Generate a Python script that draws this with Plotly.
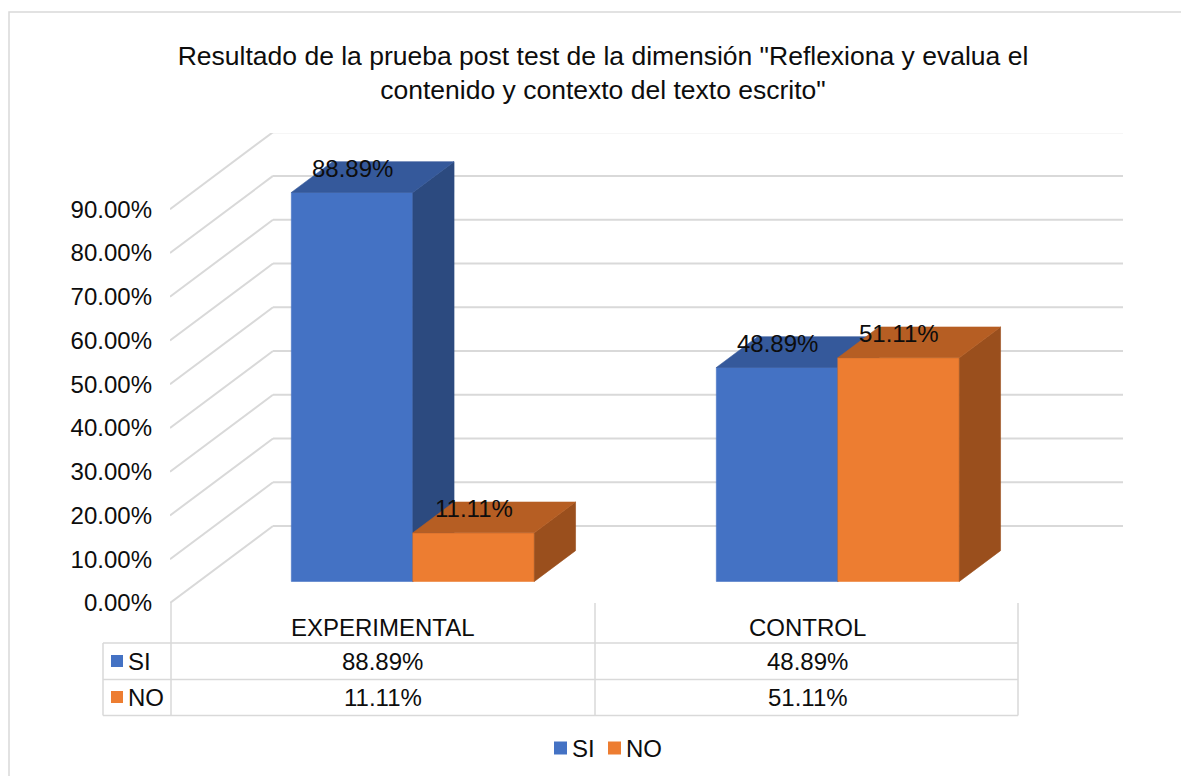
import plotly.graph_objects as go

# ---------------- data ----------------
categories = ["EXPERIMENTAL", "CONTROL"]
series_names = ["SI", "NO"]
si_values = [88.89, 48.89]
no_values = [11.11, 51.11]
tick_values = [0, 10, 20, 30, 40, 50, 60, 70, 80, 90]

# ---------------- style / geometry ----------------
OFF = 8                          # page body margin
W, H = 1189 - OFF, 776 - OFF
PLOT_L, PLOT_R, PLOT_T, PLOT_B = 170, 1124, 133, 603   # page pixel coords
ML, MR, MT, MB = PLOT_L - OFF, W - (PLOT_R - OFF), PLOT_T - OFF, H - (PLOT_B - OFF)
PW, PH = W - ML - MR, H - MT - MB
PX_PER_CAT = 425.0
PX_PER_PCT = 4.376
X0 = 0.5
XMAX = X0 + PW / PX_PER_CAT
YMAX = PH / PX_PER_PCT

WALL_DX = 103 / PX_PER_CAT      # depth offset in x-units
WALL_DY = 77 / PX_PER_PCT       # depth offset in y-units
D0, D1 = 0.28, 0.68             # bar depth (fraction of floor depth)
BAR_W = 121.5 / PX_PER_CAT
BAR_OFF = 1.5 / PX_PER_CAT

FONT = "Liberation Sans, Arial, sans-serif"
FS = 24
FS_TITLE = 26.5
TXT = "#0d0d0d"
GRID = "#d9d9d9"

colors = {
    "SI": {"front": "#4472C4", "top": "#35599B", "side": "#2C4A7F"},
    "NO": {"front": "#ED7D31", "top": "#B65E23", "side": "#9A4F1D"},
}

def pxx(px):
    return (px - PLOT_L) / PW

def pxy(py):
    return (PLOT_B - py) / PH

fig = go.Figure()

# ---------------- walls (grid lines) ----------------
shapes = []
for v in tick_values:
    shapes.append(dict(type="line", xref="x", yref="y", layer="below",
                       x0=X0, y0=v, x1=X0 + WALL_DX, y1=v + WALL_DY,
                       line=dict(color=GRID, width=2)))
    shapes.append(dict(type="line", xref="x", yref="y", layer="below",
                       x0=X0 + WALL_DX, y0=v + WALL_DY,
                       x1=X0 + len(categories) + WALL_DX, y1=v + WALL_DY,
                       line=dict(color=GRID, width=2)))

# ---------------- 3D bars ----------------
annotations = []
series = [("SI", si_values), ("NO", no_values)]
for ci, cat in enumerate(categories):
    center = ci + 1
    for si, (name, vals) in enumerate(series):
        v = vals[ci]
        xl = center - BAR_W + BAR_OFF + si * BAR_W
        xr = xl + BAR_W
        sx0, sy0 = D0 * WALL_DX, D0 * WALL_DY
        sx1, sy1 = D1 * WALL_DX, D1 * WALL_DY
        col = colors[name]
        fx = [xl + sx0, xr + sx0, xr + sx0, xl + sx0, xl + sx0]
        fy = [sy0, sy0, v + sy0, v + sy0, sy0]
        sxp = [xr + sx0, xr + sx1, xr + sx1, xr + sx0, xr + sx0]
        syp = [sy0, sy1, v + sy1, v + sy0, sy0]
        tx = [xl + sx0, xr + sx0, xr + sx1, xl + sx1, xl + sx0]
        ty = [v + sy0, v + sy0, v + sy1, v + sy1, v + sy0]
        for px_, py_, c in [(fx, fy, col["front"]), (sxp, syp, col["side"]), (tx, ty, col["top"])]:
            fig.add_trace(go.Scatter(x=px_, y=py_, mode="lines", fill="toself",
                                     fillcolor=c, line=dict(color=c, width=0.6),
                                     hoverinfo="skip", showlegend=False, name=name))
        annotations.append(dict(x=(xl + xr) / 2 + sx0, y=v + sy0, xref="x", yref="y",
                                text=f"{v:.2f}%", showarrow=False, yanchor="middle",
                                yshift=24, font=dict(family=FONT, size=FS, color=TXT)))

# ---------------- data table ----------------
T_LEFT, T_COL1 = 103, 171
T_TOP, R1, R2, R3 = 603, 643, 679.5, 715.6
col_edges = [T_COL1, T_COL1 + PX_PER_CAT - 1, T_COL1 + 2 * PX_PER_CAT - 3]
tl = dict(color=GRID, width=1.5)
for yy in [R1, R2, R3]:
    shapes.append(dict(type="line", xref="paper", yref="paper",
                       x0=pxx(T_LEFT), x1=pxx(col_edges[-1]), y0=pxy(yy), y1=pxy(yy), line=tl))
shapes.append(dict(type="line", xref="paper", yref="paper",
                   x0=pxx(T_LEFT), x1=pxx(T_LEFT), y0=pxy(R1), y1=pxy(R3), line=tl))
for xx in col_edges:
    shapes.append(dict(type="line", xref="paper", yref="paper",
                       x0=pxx(xx), x1=pxx(xx), y0=pxy(T_TOP), y1=pxy(R3), line=tl))

for ci, cat in enumerate(categories):
    annotations.append(dict(x=ci + 1, y=pxy(627), xref="x", yref="paper", text=cat,
                            showarrow=False, yanchor="middle",
                            font=dict(family=FONT, size=FS, color=TXT)))
row_y = [661, 697]
for ri, (name, vals) in enumerate(series):
    for ci in range(len(categories)):
        annotations.append(dict(x=ci + 1, y=pxy(row_y[ri]), xref="x", yref="paper",
                                text=f"{vals[ci]:.2f}%", showarrow=False, yanchor="middle",
                                font=dict(family=FONT, size=FS, color=TXT)))
    shapes.append(dict(type="rect", xref="paper", yref="paper",
                       x0=pxx(111), x1=pxx(123), y0=pxy(row_y[ri] + 6), y1=pxy(row_y[ri] - 6),
                       fillcolor=colors[name]["front"], line=dict(width=0)))
    annotations.append(dict(x=pxx(126), y=pxy(row_y[ri]), xref="paper", yref="paper",
                            text=name, showarrow=False, xanchor="left", yanchor="middle",
                            font=dict(family=FONT, size=FS, color=TXT)))

# ---------------- legend ----------------
leg_y = 748
leg_items = [(554, "SI"), (608, "NO")]
for lx, name in leg_items:
    shapes.append(dict(type="rect", xref="paper", yref="paper",
                       x0=pxx(lx), x1=pxx(lx + 13), y0=pxy(leg_y + 6.5), y1=pxy(leg_y - 6.5),
                       fillcolor=colors[name]["front"], line=dict(width=0)))
    annotations.append(dict(x=pxx(lx + 16), y=pxy(leg_y), xref="paper", yref="paper",
                            text=name, showarrow=False, xanchor="left", yanchor="middle",
                            font=dict(family=FONT, size=FS, color=TXT)))

# ---------------- outer border ----------------
shapes.append(dict(type="rect", xref="paper", yref="paper", layer="below",
                   x0=pxx(9), x1=pxx(1189 + 30), y0=pxy(12), y1=pxy(776 + 30),
                   line=dict(color=GRID, width=1.5), fillcolor="rgba(0,0,0,0)"))

fig.update_layout(
    width=W, height=H,
    margin=dict(l=ML, r=MR, t=MT, b=MB),
    paper_bgcolor="white", plot_bgcolor="white",
    showlegend=False,
    title=dict(text='Resultado de la prueba post test de la dimensión "Reflexiona y evalua el<br>contenido y contexto del texto escrito"',
               x=(603 - OFF) / W, xanchor="center", xref="container",
               y=1 - (65 - OFF) / H, yanchor="middle", yref="container",
               font=dict(family=FONT, size=FS_TITLE, color=TXT)),
    xaxis=dict(range=[X0, XMAX], visible=False, fixedrange=True),
    yaxis=dict(range=[0, YMAX], tickvals=tick_values,
               ticktext=[f"{t:.2f}%" for t in tick_values],
               showgrid=False, zeroline=False, showline=False, ticks="",
               ticklabelstandoff=17,
               tickfont=dict(family=FONT, size=FS, color=TXT)),
    shapes=shapes,
    annotations=annotations,
)

fig.write_html("out.html")
